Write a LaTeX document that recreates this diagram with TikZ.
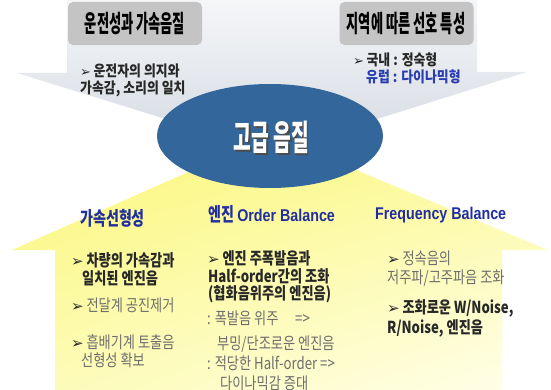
\documentclass[tikz,border=0pt]{standalone}
\usepackage{fontspec}
\usetikzlibrary{shapes.geometric,shadings}
\setmainfont{Noto Sans CJK KR}
\newfontfamily\krT[FakeStretch=0.55]{Noto Sans CJK KR}
\newfontfamily\krM[FakeStretch=0.74]{Noto Sans CJK KR}
\newfontfamily\krB[FakeStretch=0.8]{Noto Sans CJK KR}
\newfontfamily\krC[FakeStretch=0.86]{Noto Sans CJK KR}
\newfontfamily\arB[FakeStretch=0.84]{Liberation Sans}
\newfontfamily\symf{DejaVu Sans}
\newcommand\bul{{\symf\fontsize{15}{15}\selectfont ➢}\,}
\newcommand\bulS{{\symf\fontsize{13}{13}\selectfont ➢}\,}
\definecolor{grayA}{RGB}{245,246,248}
\definecolor{grayB}{RGB}{212,218,226}
\definecolor{boxgray}{RGB}{196,196,196}
\definecolor{ellblue}{RGB}{51,103,155}
\definecolor{ttlblue}{RGB}{32,46,160}
\definecolor{eublue}{RGB}{40,60,180}
\definecolor{dark}{RGB}{40,40,40}
\definecolor{mid}{RGB}{110,110,110}
\definecolor{yelA}{RGB}{251,247,120}
\definecolor{yelB}{RGB}{252,249,155}
\definecolor{yelC}{RGB}{253,251,180}
\definecolor{yelD}{RGB}{255,255,236}
\tikzset{
  ttlbox/.style={rounded corners=5pt, fill=boxgray, minimum width=134pt, minimum height=43pt, inner sep=0pt},
  ttltxt/.style={anchor=base, inner sep=0pt, text=black, font=\krT\bfseries\fontsize{24}{24}\selectfont},
  bodyD/.style={anchor=base west, inner sep=0pt, text=dark, font=\krB\bfseries\fontsize{16.5}{16.5}\selectfont},
  bodyG/.style={anchor=base west, inner sep=0pt, text=mid, font=\krB\fontsize{16.5}{16.5}\selectfont},
  topD/.style={anchor=base west, inner sep=0pt, text=dark, font=\krC\bfseries\fontsize{15}{15}\selectfont},
  coltitle/.style={anchor=base west, inner sep=0pt, text=ttlblue, font=\krM\bfseries\fontsize{19}{19}\selectfont},
}
\begin{document}
\begin{tikzpicture}[x=1pt,y=-1pt]
\useasboundingbox (0,0) rectangle (551,390);
% top gray arrow
\shade[top color=grayA, bottom color=grayB]
  (67,0) -- (477,0) -- (477,72) -- (527,72) -- (272,152) -- (17,73) -- (67,73) -- cycle;
% bottom yellow arrow
\shade[upper left=yelA, upper right=yelB, lower left=yelC, lower right=yelD]
  (12,250) -- (272,135) -- (548,250) -- (502,250) -- (502,390) -- (55,390) -- (55,250) -- cycle;
% top boxes
\node[ttlbox] (bl) at (135,23.5) {};
\node[ttlbox] (br) at (406.5,23.5) {};
\node[ttltxt] (tl) at (135,33) {운전성과 가속음질};
\node[ttltxt] (tr) at (406,33) {지역에 따른 선호 특성};
% top texts
\node[topD] (a1) at (80,76.5) {\bulS 운전자의 의지와};
\node[topD] (a2) at (80,93.5) {가속감, 소리의 일치};
\node[topD] (b1) at (353,65.5) {\bulS 국내 : 정숙형};
\node[topD, text=eublue] (b2) at (366,82.5) {유럽 : 다이나믹형};
% center ellipse
\node[ellipse, fill=ellblue, minimum width=226pt, minimum height=104pt, inner sep=0pt] (core) at (270,136) {};
\node[anchor=base, inner sep=0pt, text=black!70, font=\krT\bfseries\fontsize{35}{35}\selectfont] (coresh) at (273,152.5) {고급 음질};
\node[anchor=base, inner sep=0pt, text=white, font=\krT\bfseries\fontsize{35}{35}\selectfont] (coretx) at (271.5,151) {고급 음질};
% column titles
\node[coltitle] (c1) at (80,225) {가속선형성};
\node[coltitle] (c2) at (208,221.5) {엔진 {\arB\bfseries\fontsize{17}{17}\selectfont Order Balance}};
\node[coltitle, font=\arB\bfseries\fontsize{17}{17}\selectfont] (c3) at (375,219) {Frequency Balance};
% left column
\node[bodyD] (l1) at (71,266) {\bul 차량의 가속감과};
\node[bodyD] (l2) at (82,284) {일치된 엔진음};
\node[bodyG] (l3) at (71,311) {{\color{dark}\bul}전달계 공진제거};
\node[bodyG] (l4) at (71,348) {{\color{dark}\bul}흡배기계 토출음};
\node[bodyG] (l5) at (81,366) {선형성 확보};
% middle column
\node[bodyD] (m1) at (207,264) {\bul 엔진 주폭발음과};
\node[bodyD] (m2) at (208,282) {Half-order간의 조화};
\node[bodyD] (m3) at (208,299) {(협화음위주의 엔진음)};
\node[bodyG] (m4) at (207,324) {\makebox[88pt][l]{: 폭발음 위주}=>};
\node[bodyG] (m5) at (217,349) {부밍/단조로운 엔진음};
\node[bodyG] (m6) at (207,369) {: 적당한 Half-order =>};
\node[bodyG] (m7) at (220,389) {다이나믹감 증대};
% right column
\node[bodyG] (r1) at (387,264) {{\color{dark}\bul}정속음의};
\node[bodyG] (r2) at (387,283) {저주파/고주파음 조화};
\node[bodyD] (r3) at (387,313) {\bul 조화로운 W/Noise,};
\node[bodyD] (r4) at (387,333) {R/Noise, 엔진음};
\end{tikzpicture}
\end{document}
